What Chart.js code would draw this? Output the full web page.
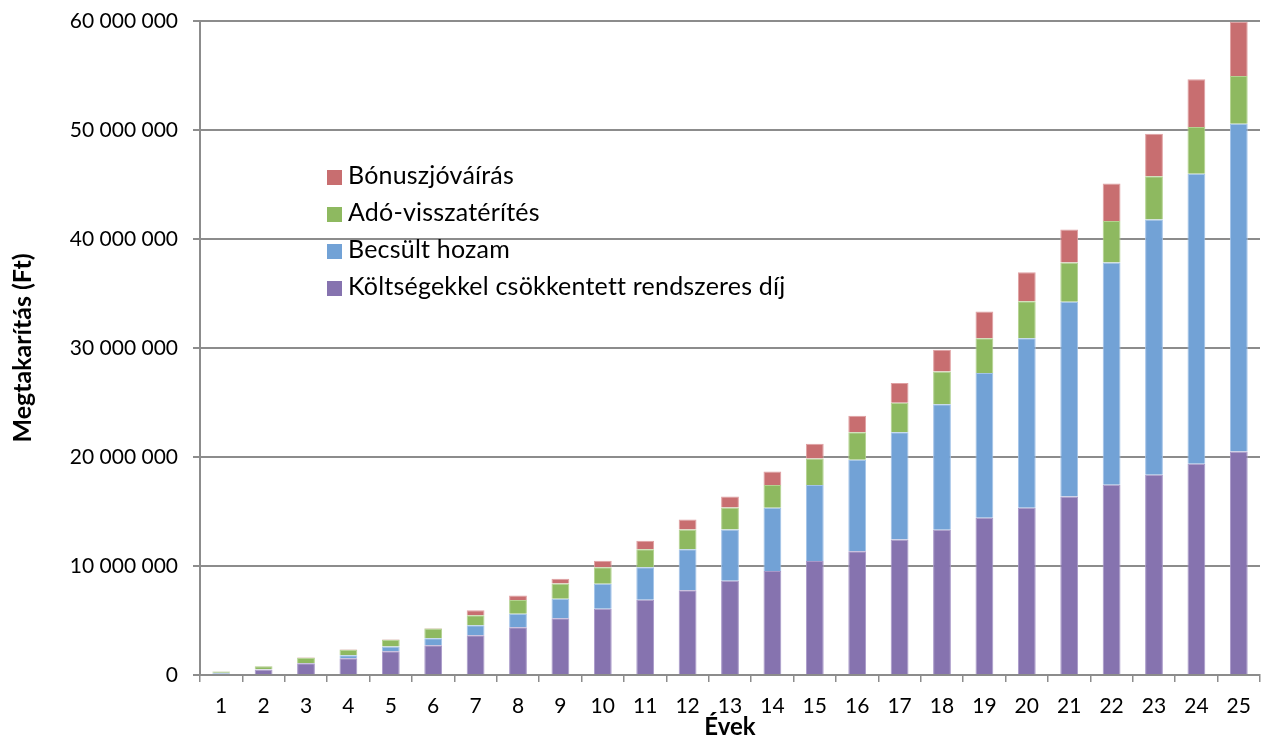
<!DOCTYPE html>
<html>
<head>
<meta charset="utf-8">
<script src="https://cdn.jsdelivr.net/npm/chart.js@4.4.1/dist/chart.umd.min.js"></script>
<style>
  html, body { margin: 0; padding: 0; background: #fff; }
  #wrap { position: relative; width: 1263px; height: 742px; }
  #legend { position: absolute; left: 327px; top: 156px; font-family: Lato, "Open Sans", sans-serif; font-size: 25px; letter-spacing: 0.2px; color: #000; }
  #legend div { height: 37px; line-height: 37px; white-space: nowrap; }
  #legend span { display: inline-block; width: 15px; height: 15px; margin-right: 6px; vertical-align: -1px; }
</style>
</head>
<body>
<div id="wrap">
  <canvas id="chart" width="1263" height="742"></canvas>
  <div id="legend"></div>
</div>
<script>
// years on the x axis
const years = ['1','2','3','4','5','6','7','8','9','10','11','12','13','14','15','16','17','18','19','20','21','22','23','24','25'];

// segment values in million Ft
const dij = [0.12, 0.50, 1.08, 1.54, 2.18, 2.74, 3.65, 4.39, 5.21, 6.07, 6.90, 7.78, 8.64, 9.53, 10.45, 11.36, 12.43, 13.32, 14.42, 15.34, 16.38, 17.45, 18.37, 19.38, 20.51];
const hozam = [0.08, 0.03, 0.03, 0.28, 0.44, 0.64, 0.92, 1.23, 1.78, 2.30, 2.99, 3.76, 4.71, 5.81, 6.97, 8.39, 9.85, 11.53, 13.28, 15.56, 17.87, 20.40, 23.43, 26.61, 30.07];
const ado = [0.13, 0.28, 0.48, 0.50, 0.61, 0.89, 0.92, 1.25, 1.41, 1.52, 1.65, 1.81, 2.02, 2.08, 2.45, 2.53, 2.70, 3.00, 3.20, 3.38, 3.60, 3.80, 3.95, 4.28, 4.37];
const bonusz = [0.02, 0.02, 0.03, 0.04, 0.04, 0.05, 0.46, 0.43, 0.43, 0.59, 0.77, 0.92, 1.01, 1.25, 1.35, 1.51, 1.82, 1.99, 2.46, 2.66, 3.03, 3.45, 3.91, 4.38, 4.99];

const yTicks = [0, 10000000, 20000000, 30000000, 40000000, 50000000, 60000000];

const FONT = 'Lato, "Open Sans", sans-serif';
const GRID = '#8c8c8c';

const series = [
  { label: 'Költségekkel csökkentett rendszeres díj', data: dij, color: '#8673AF', edge: '#a898c8' },
  { label: 'Becsült hozam', data: hozam, color: '#72A2D6', edge: '#a3c3e8' },
  { label: 'Adó-visszatérítés', data: ado, color: '#8EB960', edge: '#b3d28f' },
  { label: 'Bónuszjóváírás', data: bonusz, color: '#C86E70', edge: '#e0a0a2' }
];

const fmt = v => String(Math.round(v)).replace(/\B(?=(\d{3})+(?!\d))/g, ' ');

new Chart(document.getElementById('chart').getContext('2d'), {
  type: 'bar',
  data: {
    labels: years,
    datasets: series.map(s => ({
      label: s.label,
      data: s.data.map(v => v * 1000000),
      backgroundColor: s.color,
      borderColor: s.edge,
      borderWidth: 1,
      barPercentage: 0.42,
      categoryPercentage: 1
    }))
  },
  options: {
    responsive: false,
    animation: false,
    layout: { padding: { top: 21, right: 3, left: 0, bottom: 0 } },
    plugins: { legend: { display: false }, tooltip: { enabled: false } },
    scales: {
      x: {
        stacked: true,
        grid: { drawOnChartArea: false, drawTicks: true, tickLength: 7, color: GRID, lineWidth: 1.5 },
        border: { display: true, color: GRID, width: 2 },
        ticks: { color: '#000', font: { family: FONT, size: 21 }, padding: 12, maxRotation: 0, autoSkip: false },
        title: { display: true, text: 'Évek', color: '#000', font: { family: FONT, size: 24, weight: 'bold' }, padding: { top: 0, bottom: 0 } },
        afterFit: s => { s.height = 67; s.paddingLeft = 0; s.paddingRight = 0; }
      },
      y: {
        stacked: true,
        min: 0,
        max: 60000000,
        afterBuildTicks: s => { s.ticks = yTicks.map(v => ({ value: v })); },
        grid: { color: GRID, lineWidth: 2, tickLength: 7 },
        border: { display: true, color: GRID, width: 2 },
        ticks: { color: '#000', font: { family: FONT, size: 21 }, padding: 15, callback: v => fmt(v) },
        title: { display: true, text: 'Megtakarítás (Ft)', color: '#000', font: { family: FONT, size: 25, weight: 'bold' }, padding: { top: 8, bottom: 0 } },
        afterFit: s => { s.width = 200; s.paddingTop = 0; s.paddingBottom = 0; }
      }
    }
  }
});

// legend, reversed like the original
const lg = document.getElementById('legend');
series.slice().reverse().forEach(s => {
  const row = document.createElement('div');
  const sw = document.createElement('span');
  sw.style.background = s.color;
  row.appendChild(sw);
  row.appendChild(document.createTextNode(s.label));
  lg.appendChild(row);
});
</script>
</body>
</html>
